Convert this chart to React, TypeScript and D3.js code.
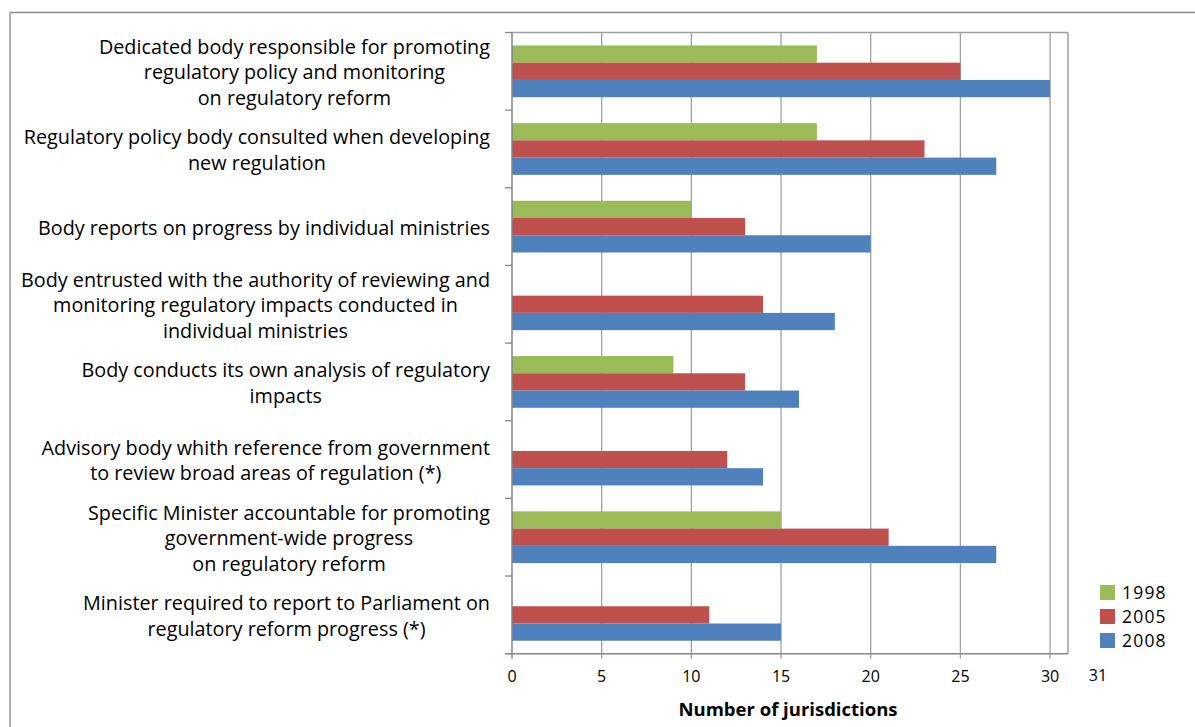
import React, { useEffect, useRef } from 'react';
import * as d3 from 'd3';

const categories: string[][] = [
  ["Dedicated body responsible for promoting", "regulatory policy and monitoring", "on regulatory reform"],
  ["Regulatory policy body consulted when developing", "new regulation"],
  ["Body reports on progress by individual ministries"],
  ["Body entrusted with the authority of reviewing and", "monitoring regulatory impacts conducted in", "individual ministries"],
  ["Body conducts its own analysis of regulatory", "impacts"],
  ["Advisory body whith reference from government", "to review broad areas of regulation (*)"],
  ["Specific Minister accountable for promoting", "government-wide progress", "on regulatory reform"],
  ["Minister required to report to Parliament on", "regulatory reform progress (*)"],
];
const seriesNames = ["1998", "2005", "2008"];
const values1998: (number | null)[] = [17, 17, 10, null, 9, null, 15, null];
const values2005: (number | null)[] = [25, 23, 13, 14, 13, 12, 21, 11];
const values2008: (number | null)[] = [30, 27, 20, 18, 16, 14, 27, 15];
const xTicks = [0, 5, 10, 15, 20, 25, 30];
const xMaxLabel = "31";
const xTitle = "Number of jurisdictions";
const colors = ["#9BBB59", "#C0504D", "#4F81BD"];

const FONT = "'Open Sans', 'Noto Sans', sans-serif";

export default function App() {
  const ref = useRef<SVGSVGElement | null>(null);

  useEffect(() => {
    const svg = d3.select(ref.current!);
    svg.selectAll('*').remove();
    const W = 1195, H = 727;
    const left = 512, right = 1068, top = 32.5, bottom = 653.7;
    const x = d3.scaleLinear().domain([0, 31]).range([left, right]);
    const ids = categories.map((_, i) => String(i));
    const y = d3.scaleBand<string>().domain(ids).range([top, bottom]).paddingInner(0.334).paddingOuter(0.167);
    const ys = d3.scaleBand<string>().domain(seriesNames).range([0, y.bandwidth()]);
    const step = y.step();
    const data = [values1998, values2005, values2008];

    // outer frame
    svg.append('path').attr('d', `M10,${H} V12.5 H${W}`).attr('fill', 'none').attr('stroke', '#8c8c8c').attr('stroke-width', 1.3);

    // gridlines
    svg.append('g').selectAll('line').data(xTicks.filter(t => t > 0)).join('line')
      .attr('x1', d => x(d)).attr('x2', d => x(d)).attr('y1', top).attr('y2', bottom + 5)
      .attr('stroke', '#a0a0a0').attr('stroke-width', 1.3);
    svg.append('line').attr('x1', left).attr('x2', right).attr('y1', top).attr('y2', top).attr('stroke', '#a0a0a0').attr('stroke-width', 1.3);
    svg.append('line').attr('x1', right).attr('x2', right).attr('y1', top).attr('y2', bottom).attr('stroke', '#8c8c8c').attr('stroke-width', 1.3);

    // bars
    data.forEach((vals, si) => {
      svg.append('g').selectAll('rect').data(vals.map((v, i) => ({ v, i })).filter(d => d.v != null)).join('rect')
        .attr('x', x(0))
        .attr('y', d => (y(String(d.i)) as number) + (ys(seriesNames[si]) as number))
        .attr('width', d => x(d.v as number) - x(0))
        .attr('height', ys.bandwidth())
        .attr('fill', colors[si]);
    });

    // axes lines
    svg.append('line').attr('x1', left).attr('x2', left).attr('y1', top).attr('y2', bottom + 5).attr('stroke', '#868686').attr('stroke-width', 1.5);
    svg.append('line').attr('x1', left - 7).attr('x2', right).attr('y1', bottom).attr('y2', bottom).attr('stroke', '#868686').attr('stroke-width', 1.5);
    const bounds = d3.range(categories.length + 1).map(i => top + i * step);
    svg.append('g').selectAll('line').data(bounds).join('line')
      .attr('x1', left - 7).attr('x2', left).attr('y1', d => d).attr('y2', d => d)
      .attr('stroke', '#868686').attr('stroke-width', 1.3);

    // x tick labels
    svg.append('g').selectAll('text').data(xTicks).join('text')
      .attr('x', d => x(d)).attr('y', 682).attr('text-anchor', 'middle')
      .attr('font-family', FONT).attr('font-size', 16).attr('fill', '#000').text(d => String(d));
    svg.append('text').attr('x', 1098).attr('y', 681).attr('text-anchor', 'middle')
      .attr('font-family', FONT).attr('font-size', 16).attr('fill', '#000').text(xMaxLabel);

    // x title
    svg.append('text').attr('x', 788).attr('y', 716).attr('text-anchor', 'middle')
      .attr('font-family', FONT).attr('font-size', 18.5).attr('font-weight', 'bold').attr('fill', '#000').text(xTitle);

    // category labels
    const labelRight = 490;
    const lineH = 25.5;
    categories.forEach((lines, i) => {
      const cy = (y(String(i)) as number) + y.bandwidth() / 2 + 1;
      const g = svg.append('g');
      const texts = g.selectAll('text').data(lines).join('text')
        .attr('y', (_, k) => cy + (k - (lines.length - 1) / 2) * lineH)
        .attr('dy', '0.35em')
        .attr('text-anchor', 'middle')
        .attr('font-family', FONT).attr('font-size', 19.8).attr('fill', '#000')
        .text(d => d);
      let maxW = 0;
      texts.each(function () { maxW = Math.max(maxW, (this as SVGTextElement).getComputedTextLength()); });
      texts.attr('x', labelRight - maxW / 2);
    });

    // legend
    const lg = svg.append('g');
    seriesNames.forEach((s, i) => {
      const yy = 585 + i * 24;
      lg.append('rect').attr('x', 1100).attr('y', yy).attr('width', 15).attr('height', 15).attr('fill', colors[i]);
      lg.append('text').attr('x', 1122).attr('y', yy + 7.5).attr('dy', '0.36em')
        .attr('font-family', FONT).attr('font-size', 17.5).attr('letter-spacing', 1.2).attr('fill', '#000').text(s);
    });
  }, []);

  return (
    <svg ref={ref} width={1195} height={727} style={{ position: 'absolute', left: 0, top: 0, background: '#fff' }} />
  );
}
